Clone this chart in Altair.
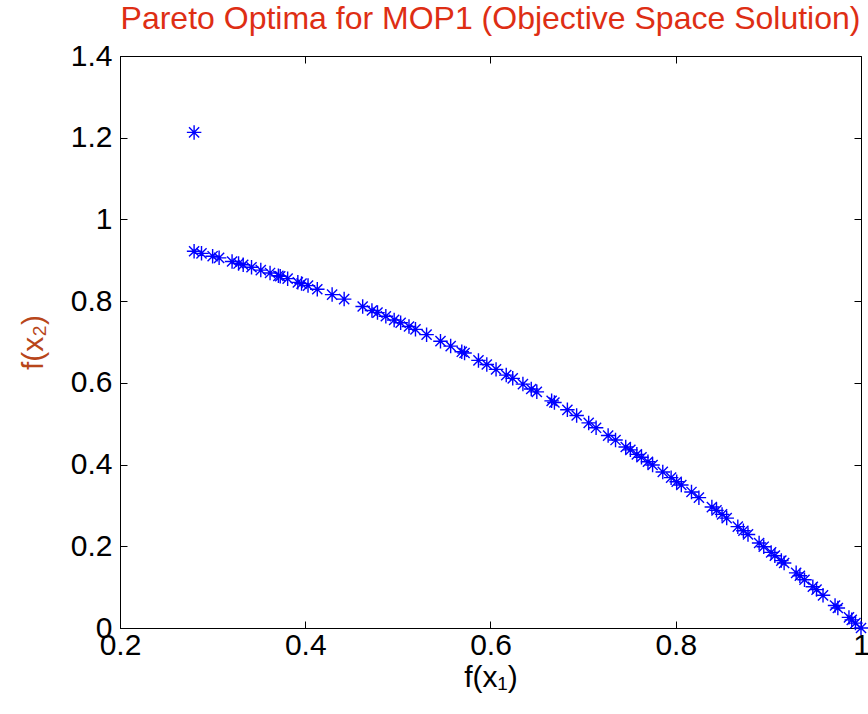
import altair as alt
import pandas as pd

# f(x1) values (front points, then the outlier)
f1 = [0.280, 0.288, 0.300, 0.307, 0.321, 0.328, 0.333, 0.342, 0.352, 0.362,
      0.371, 0.373, 0.381, 0.392, 0.396, 0.403, 0.413, 0.429, 0.442, 0.462,
      0.472, 0.478, 0.487, 0.496, 0.503, 0.512, 0.519, 0.531, 0.546, 0.557,
      0.569, 0.572, 0.587, 0.596, 0.606, 0.617, 0.624, 0.635, 0.644, 0.650,
      0.666, 0.669, 0.683, 0.693, 0.706, 0.714, 0.727, 0.735, 0.746, 0.751,
      0.758, 0.763, 0.770, 0.775, 0.786, 0.795, 0.801, 0.806, 0.817, 0.825,
      0.839, 0.844, 0.850, 0.855, 0.867, 0.873, 0.878, 0.890, 0.895, 0.903,
      0.907, 0.914, 0.917, 0.930, 0.934, 0.939, 0.948, 0.952, 0.959, 0.972,
      0.975, 0.987, 0.990, 0.994, 1.000,
      0.280]
f2 = [0.922, 0.917, 0.910, 0.906, 0.897, 0.892, 0.889, 0.883, 0.876, 0.869,
      0.862, 0.861, 0.855, 0.846, 0.843, 0.838, 0.829, 0.816, 0.805, 0.787,
      0.777, 0.772, 0.763, 0.754, 0.747, 0.738, 0.731, 0.718, 0.702, 0.690,
      0.676, 0.673, 0.655, 0.645, 0.633, 0.619, 0.611, 0.597, 0.585, 0.578,
      0.556, 0.552, 0.534, 0.520, 0.502, 0.490, 0.471, 0.460, 0.443, 0.436,
      0.425, 0.418, 0.407, 0.399, 0.382, 0.368, 0.358, 0.350, 0.333, 0.319,
      0.296, 0.288, 0.278, 0.269, 0.248, 0.238, 0.229, 0.208, 0.199, 0.185,
      0.177, 0.165, 0.159, 0.135, 0.128, 0.118, 0.101, 0.094, 0.080, 0.055,
      0.049, 0.026, 0.020, 0.012, 0.000,
      1.213]

x_ticks = [0.2, 0.4, 0.6, 0.8, 1.0]
y_ticks = [0, 0.2, 0.4, 0.6, 0.8, 1.0, 1.2, 1.4]

df = pd.DataFrame({"f1": f1, "f2": f2})

W, H = 741, 572
TICK = 7
FONT = "Liberation Sans"
STAR = "M-1,0L1,0M0,-1L0,1M-0.7,-0.7L0.7,0.7M-0.7,0.7L0.7,-0.7"

chart = alt.Chart(df).mark_point(
    shape=STAR, filled=False, stroke="#0000FF", strokeWidth=1.4, size=210,
    opacity=1, clip=False
).encode(
    x=alt.X("f1:Q", scale=alt.Scale(domain=[0.2, 1.0], nice=False, zero=False),
            axis=alt.Axis(values=x_ticks, format="~g", orient="bottom", ticks=False,
                          grid=True, gridColor="black", gridOpacity=1, gridWidth=1,
                          gridDash=[TICK, H - 2 * TICK, TICK],
                          labelFontSize=30, labelFont=FONT, labelColor="black",
                          labelPadding=2, domainColor="black", title="f(x₁)",
                          titleFont=FONT, titleFontSize=30, titleFontWeight="normal",
                          titleColor="black", titlePadding=2, labelFlush=False)),
    y=alt.Y("f2:Q", scale=alt.Scale(domain=[0, 1.4], nice=False, zero=False),
            axis=alt.Axis(values=y_ticks, format="~g", orient="left", ticks=False,
                          grid=True, gridColor="black", gridOpacity=1, gridWidth=1,
                          gridDash=[TICK, W - 2 * TICK, TICK],
                          labelFontSize=30, labelFont=FONT, labelColor="black",
                          labelPadding=8, domainColor="black", title="f(x₂)",
                          titleFont=FONT, titleFontSize=30, titleFontWeight="normal",
                          titleColor="#B8461A", titlePadding=22, labelFlush=False)),
).properties(
    width=W, height=H,
    title=alt.TitleParams("Pareto Optima for MOP1 (Objective Space Solution)",
                          font=FONT, fontSize=32, fontWeight="normal", color="#DE2E14",
                          anchor="middle", baseline="alphabetic", offset=10, dy=30),
    autosize=alt.AutoSizeParams(type="none"),
    padding={"left": 120, "top": 56, "right": 7, "bottom": 86},
    background="white",
).configure_view(stroke="black", strokeWidth=1)

chart.save("out.html", embed_options={"renderer": "svg", "actions": False})
